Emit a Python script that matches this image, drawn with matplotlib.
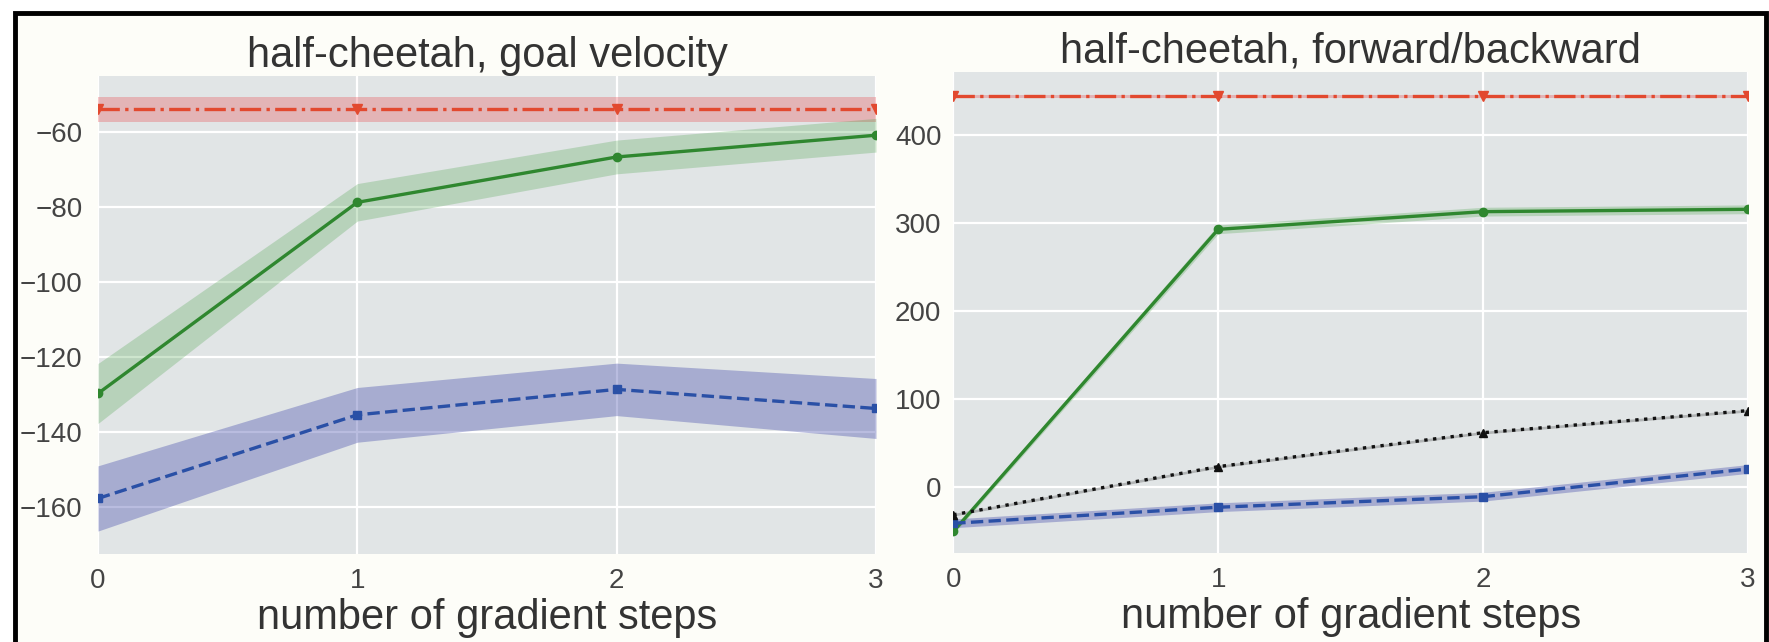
import numpy as np
import matplotlib
matplotlib.use("Agg")
import matplotlib.pyplot as plt
from matplotlib.patches import Rectangle

# data

steps = [0, 1, 2, 3]

# half-cheetah, goal velocity
oracle_gv = [-54.0, -54.0, -54.0, -54.0]
oracle_gv_err = [3.4, 3.4, 3.4, 3.4]
maml_gv = [-129.8, -78.8, -66.7, -60.9]
maml_gv_err = [8.0, 5.0, 4.5, 4.5]
pre_gv = [-157.8, -135.5, -128.7, -133.8]
pre_gv_err = [8.7, 7.3, 7.0, 8.0]

# half-cheetah, forward/backward
oracle_fb = [444.0, 444.0, 444.0, 444.0]
oracle_fb_err = [2.0, 2.0, 2.0, 2.0]
maml_fb = [-51.0, 292.7, 312.8, 315.5]
maml_fb_err = [3.0, 5.0, 5.0, 5.0]
pre_fb = [-41.7, -23.4, -11.4, 20.1]
pre_fb_err = [5.0, 5.0, 5.0, 5.0]
rand_fb = [-32.0, 22.8, 61.4, 86.5]
rand_fb_err = [1.5, 1.5, 1.5, 1.5]

titles = ["half-cheetah, goal velocity", "half-cheetah, forward/backward"]
xlabel = "number of gradient steps"

plt.rcParams['font.family'] = ['Liberation Sans', 'DejaVu Sans']

RED = '#e2492f'
GREEN = '#2f872f'
BLUE = '#2a50a6'
BLACK = '#111111'

fig = plt.figure(figsize=(17.69, 6.42), dpi=100, facecolor='white')

# black frame round the picture
fig.patches.append(Rectangle((15 / 1769, -0.05), (1766 - 15) / 1769, 1.05 - 13 / 642,
                             transform=fig.transFigure, facecolor='#fdfdf8',
                             edgecolor='black', linewidth=3.5, zorder=-5))


def curve(ax, y, err, color, fillcolor, alpha, ls, marker, ms, lw=2.4):
    y = np.array(y)
    err = np.array(err)
    ax.fill_between(steps, y - err, y + err, color=fillcolor, alpha=alpha, linewidth=0, zorder=2)
    ax.plot(steps, y, color=color, linestyle=ls, marker=marker, markersize=ms,
            linewidth=lw, zorder=3)


def style(ax, title, ylim, yticks, tickpad):
    ax.set_facecolor('#e1e5e6')
    for s in ax.spines.values():
        s.set_visible(False)
    ax.grid(True, color='white', linewidth=1.6)
    ax.set_axisbelow(True)
    ax.set_xlim(0, 3)
    ax.set_ylim(*ylim)
    ax.set_xticks(steps)
    ax.set_yticks(yticks)
    ax.tick_params(axis='both', length=0, labelsize=20, labelcolor='#444444')
    ax.tick_params(axis='y', pad=tickpad)
    ax.tick_params(axis='x', pad=10)
    ax.set_title(title, fontsize=30, color='#333333', pad=2)
    ax.set_xlabel(xlabel, fontsize=30, color='#333333', labelpad=3)


# 1) goal velocity

ax1 = fig.add_axes([98 / 1769, 1 - 554.3 / 642, (876 - 98) / 1769, (554.3 - 76) / 642])
curve(ax1, oracle_gv, oracle_gv_err, RED, '#e8434a', 0.3, '-.', 'v', 7)
curve(ax1, maml_gv, maml_gv_err, GREEN, '#3a9a3a', 0.25, '-', 'o', 6)
curve(ax1, pre_gv, pre_gv_err, BLUE, '#5058b0', 0.4, '--', 's', 6)
style(ax1, titles[0], (-172.7, -45.1), np.arange(-160, -59, 20), 11)

# 2) forward/backward

ax2 = fig.add_axes([953.3 / 1769, 1 - 553.3 / 642, (1748 - 953.3) / 1769, (553.3 - 71.7) / 642])
curve(ax2, maml_fb, maml_fb_err, GREEN, '#3a9a3a', 0.25, '-', 'o', 6)
curve(ax2, pre_fb, pre_fb_err, BLUE, '#5058b0', 0.4, '--', 's', 6)
curve(ax2, rand_fb, rand_fb_err, BLACK, '#444444', 0.3, ':', '^', 6)
curve(ax2, oracle_fb, oracle_fb_err, RED, '#e8434a', 0.3, '-.', 'v', 7)
style(ax2, titles[1], (-75.8, 472), np.arange(0, 401, 100), 8.5)

fig.savefig('out.png', dpi=100, facecolor=fig.get_facecolor())
